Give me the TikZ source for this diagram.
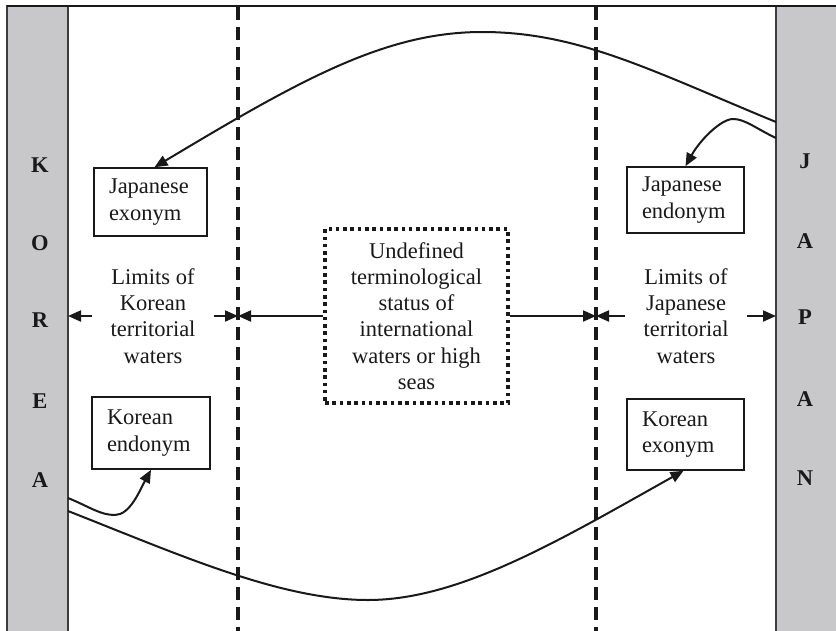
\documentclass[tikz,border=0pt]{standalone}
\usepackage{fontspec}
\setmainfont{Liberation Serif}
\usetikzlibrary{arrows.meta,calc}
\definecolor{landgray}{RGB}{200,200,202}
\definecolor{ink}{RGB}{25,25,25}

\begin{document}
\begin{tikzpicture}[x=1pt,y=-1pt,
  font=\fontsize{22.5}{26.3}\selectfont,
  land/.style={draw=ink!85, line width=1.5pt, fill=landgray, outer sep=0pt,
    anchor=north west, minimum width=61pt, minimum height=640pt, inner sep=0pt},
  letter/.style={font=\fontsize{22.5}{26.3}\selectfont\bfseries, text=ink, inner sep=0pt},
  namebox/.style={draw=ink, line width=1.6pt, align=left, inner xsep=15pt,
    inner ysep=0pt, text=ink},
  limit/.style={align=center, inner xsep=18pt, inner ysep=0pt, text=ink},
  zone/.style={draw=ink, line width=3.4pt, dash pattern=on 3.6pt off 3.7pt,
    align=center, text=ink, minimum width=183pt, minimum height=174pt, inner sep=0pt},
  boundary/.style={draw=ink, line width=3.3pt, dash pattern=on 13pt off 7pt},
  link/.style={draw=ink, line width=2pt, -{Triangle[length=13pt,width=11pt]}},
]
\useasboundingbox (0,0) rectangle (836,630);
\clip (0,0) rectangle (836,630);

% coastal strips
\node[land] (korea) at (7,6) {};
\node[land, minimum width=80pt] (japan) at (776,6) {};
\draw[ink, line width=1.6pt] (korea.north west) -- (japan.north east);

% country names, one letter per line
\foreach \l/\y [count=\i] in {K/165,O/243,R/320,E/401,A/480}
  \node[letter] (kl\i) at (40,\y) {\l};
\foreach \l/\y [count=\i] in {J/161,A/241,P/317,A/399,N/478}
  \node[letter] (jl\i) at (805,\y) {\l};

% outer limits of territorial waters
\coordinate (wtop) at (238,7);
\coordinate (wbot) at (238,632);
\coordinate (etop) at (596,7);
\coordinate (ebot) at (596,632);
\draw[boundary] (wtop) -- (wbot);
\draw[boundary] (etop) -- (ebot);

% labels
\node[limit] (klim) at (153,316) {Limits of\\Korean\\territorial\\waters};
\node[limit] (jlim) at (686,316) {Limits of\\Japanese\\territorial\\waters};
\node[zone] (zone) at (416.5,316) {Undefined\\terminological\\status of\\international\\waters or high\\seas};

\node[namebox, text width=83pt, minimum height=68pt] (jex) at (150.5,202) {Japanese\\exonym};
\node[namebox, text width=87pt, minimum height=66pt] (jen) at (685.5,200) {Japanese\\endonym};
\node[namebox, text width=88pt, minimum height=72pt] (ken) at (151,433) {Korean\\endonym};
\node[namebox, text width=87pt, minimum height=71pt] (kex) at (685.5,434.5) {Korean\\exonym};

% extent arrows
\draw[link] (klim.west) -- (korea.east |- klim.west);
\draw[link] (klim.east) -- (wtop |- klim.east);
\draw[link] (zone.west) -- (wtop |- zone.west);
\draw[link] (zone.east) -- (etop |- zone.east);
\draw[link] (jlim.west) -- (etop |- jlim.west);
\draw[link] (jlim.east) -- (japan.west |- jlim.east);

% names spreading from each coast
\coordinate (jshore1) at (776,122);
\coordinate (jshore2) at (776,138);
\coordinate (kshore1) at (68,498);
\coordinate (kshore2) at (68,511);

\draw[link] (jshore1) .. controls (650,70) and (578,32) .. (482,32)
  .. controls (385,32) and (300,80) .. ([xshift=4pt]jex.north);
\draw[link] (jshore2) .. controls (755,128) and (745,119) .. (733,119)
  .. controls (721,119) and (700,140) .. (jen.north);
\draw[link] (kshore1) .. controls (90,507) and (100,515) .. (115,515)
  .. controls (130,515) and (140,490) .. (ken.south);
\draw[link] (kshore2) .. controls (180,555) and (280,600) .. (368,600)
  .. controls (460,600) and (560,540) .. ([xshift=-2pt]kex.south);
\end{tikzpicture}
\end{document}
